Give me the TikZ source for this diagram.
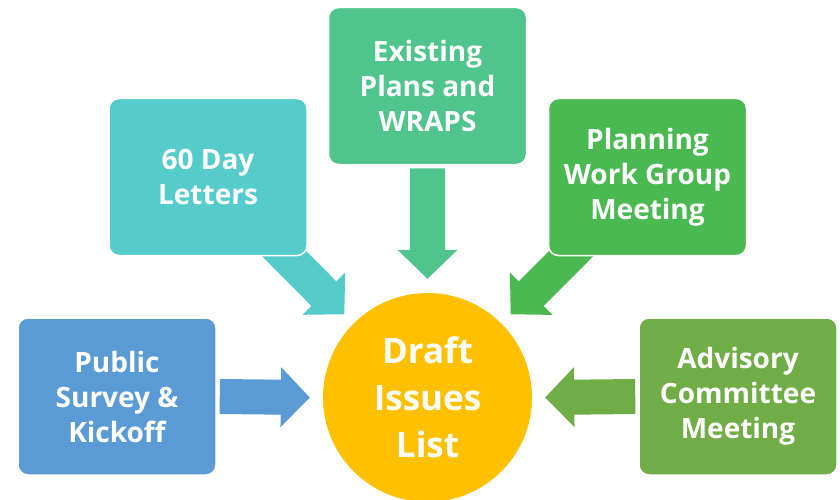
\documentclass[tikz,border=0pt]{standalone}
\usepackage{fontspec}
\setmainfont{Open Sans}
\usetikzlibrary{calc,backgrounds}

\definecolor{surveyblue}{HTML}{5B9BD5}
\definecolor{lettersaqua}{HTML}{56CBCB}
\definecolor{plansgreen}{HTML}{50C48D}
\definecolor{groupgreen}{HTML}{4AB951}
\definecolor{advisorygreen}{HTML}{70AD47}
\definecolor{draftgold}{HTML}{FFC000}

% block arrow: from, tip, colour
\newcommand\blockarrow[3]{%
  \coordinate (ba-s) at (#1);
  \coordinate (ba-t) at (#2);
  \coordinate (ba-h) at ($(ba-t)!29pt!(ba-s)$);
  \fill[#3] ($(ba-s)!17.5pt!90:(ba-t)$) -- ($(ba-h)!17.5pt!90:(ba-t)$)
    -- ($(ba-h)!30pt!90:(ba-t)$) -- (ba-t) -- ($(ba-h)!30pt!-90:(ba-t)$)
    -- ($(ba-h)!17.5pt!-90:(ba-t)$) -- ($(ba-s)!17.5pt!-90:(ba-t)$) -- cycle;
}

\begin{document}
\begin{tikzpicture}[x=1pt,y=-1pt,
source/.style={rectangle, rounded corners=10pt, draw=white, line width=1.5pt,
  minimum width=198pt, minimum height=157pt, text=white, align=center,
  font=\bfseries\fontsize{28}{35}\selectfont},
hub/.style={circle, fill=draftgold, minimum size=209pt, text=white, align=center,
  font=\bfseries\fontsize{35}{47}\selectfont}]
\useasboundingbox (0,0) rectangle (840,500);

\node[source, fill=surveyblue] (survey) at (117,396.5) {Public\\Survey \&\\Kickoff};
\node[source, fill=lettersaqua] (letters) at (208,177) {60 Day\\Letters};
\node[source, fill=plansgreen] (plans) at (427.5,86) {Existing\\Plans and\\WRAPS};
\node[source, fill=groupgreen] (group) at (647.5,177) {Planning\\Work Group\\Meeting};
\node[source, fill=advisorygreen] (advisory) at (738,396.5) {Advisory\\Committee\\Meeting};
\node[hub] (draft) at (427.5,397.5) {Draft\\Issues\\List};

\begin{scope}[on background layer]
\blockarrow{$(survey.east)+(3,0)$}{$(draft.west)+(-13,0)$}{surveyblue}
\blockarrow{letters.center}{$(draft.north west)!13pt!(letters.center)$}{lettersaqua}
\blockarrow{$(plans.south)+(0,3)$}{$(draft.north)+(0,-14)$}{plansgreen}
\blockarrow{group.center}{$(draft.north east)!13pt!(group.center)$}{groupgreen}
\blockarrow{$(advisory.west)+(-3,0)$}{$(draft.east)+(13,0)$}{advisorygreen}
\end{scope}
\end{tikzpicture}
\end{document}
